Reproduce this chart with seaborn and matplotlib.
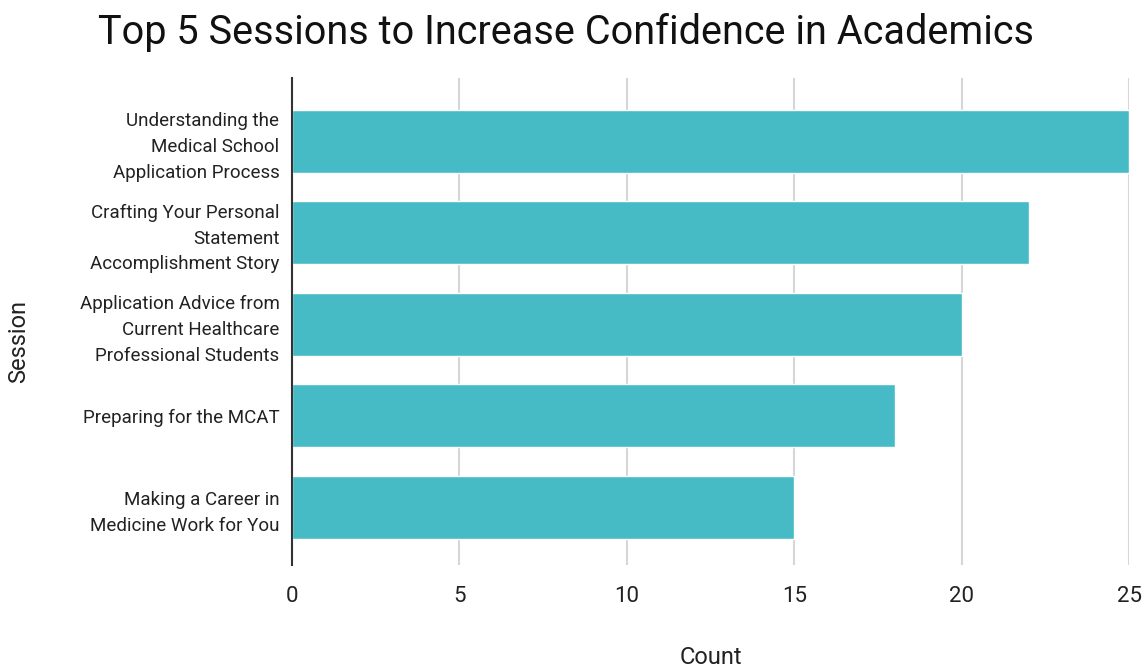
import pandas as pd
import matplotlib.pyplot as plt
import seaborn as sns

SESSIONS = [
    "Understanding the\nMedical School\nApplication Process",
    "Crafting Your Personal\nStatement\nAccomplishment Story",
    "Application Advice from\nCurrent Healthcare\nProfessional Students",
    "Preparing for the MCAT",
    "Making a Career in\nMedicine Work for You",
]
COUNTS = [25, 22, 20, 18, 15]
X_TICKS = [0, 5, 10, 15, 20, 25]

BAR_COLOR = "#46BBC6"


def make_chart():
    data = pd.DataFrame({"Session": SESSIONS, "Count": COUNTS})

    sns.set_style("white")
    plt.rcParams["font.family"] = ["Roboto", "DejaVu Sans"]

    fig = plt.figure(figsize=(11.44, 6.71), dpi=100)
    ax = fig.add_axes([0.2552, 0.158, 0.7317, 0.7258])

    sns.barplot(data=data, x="Count", y="Session", color=BAR_COLOR,
                saturation=1, width=0.69, ax=ax, zorder=3)

    ax.set_xlim(0, 25)
    ax.set_ylim(4.63, -0.69)
    ax.set_xticks(X_TICKS)
    ax.set_xticklabels([str(t) for t in X_TICKS], fontsize=16, color="#222222")
    ax.tick_params(axis="x", length=0, pad=15)
    ax.tick_params(axis="y", length=0, pad=9)
    for label in ax.get_yticklabels():
        label.set_fontsize(13.5)
        label.set_color("#222222")
        label.set_horizontalalignment("right")
        label.set_linespacing(1.55)

    # vertical gridlines, skipping the zero line (drawn as the axis)
    for t in X_TICKS[1:]:
        ax.axvline(t, color="#d6d6d6", linewidth=1.5, zorder=1)

    for side in ["top", "right", "bottom"]:
        ax.spines[side].set_visible(False)
    ax.spines["left"].set_color("#333333")
    ax.spines["left"].set_linewidth(1.5)
    ax.spines["left"].set_zorder(4)

    ax.set_xlabel("Count", fontsize=17, color="#222222", labelpad=28)
    ax.set_ylabel("Session", fontsize=17, color="#222222")
    ax.yaxis.set_label_coords(-0.313, 0.458)
    fig.text(0.495, 0.951, "Top 5 Sessions to Increase Confidence in Academics",
             fontsize=28.5, ha="center", va="center", color="#111111")

    fig.savefig("out.png", dpi=100)


if __name__ == "__main__":
    make_chart()
